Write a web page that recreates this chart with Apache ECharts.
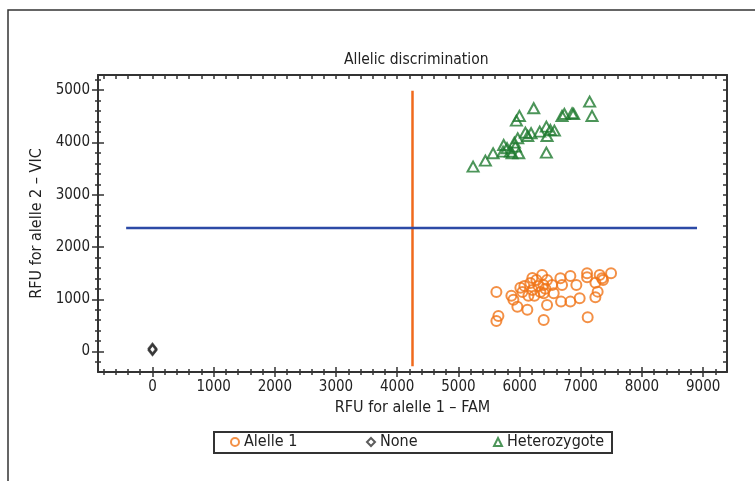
<!DOCTYPE html>
<html>
<head>
<meta charset="utf-8">
<script src="https://cdn.jsdelivr.net/npm/echarts@6/dist/echarts.min.js"></script>
<style>
  html, body { margin: 0; padding: 0; background: #fff; }
  #chart { width: 755px; height: 481px; }
</style>
</head>
<body>
<div id="chart"></div>
<script>
const FONT = '"Liberation Sans Narrow", "DejaVu Sans Condensed", sans-serif';

// axis ranges + tick labels
const xRange = [-890, 9390];
const yRange = [-390, 5290];
const xTicks = [0, 1000, 2000, 3000, 4000, 5000, 6000, 7000, 8000, 9000];
const yTicks = [0, 1000, 2000, 3000, 4000, 5000];
const minorStep = 200;

// RFU pairs [FAM, VIC]
const allele1 = [
  [5621, 1142], [5654, 683], [5621, 587], [5866, 1066], [5899, 990],
  [5964, 856], [6046, 1142], [6078, 1257], [6127, 799], [6176, 1314],
  [6209, 1180], [6242, 1066], [6275, 1371], [6307, 1257], [6340, 1142],
  [6209, 1409], [6144, 1066], [6013, 1219], [6389, 1275], [6422, 1200],
  [6368, 1467], [6449, 1371], [6531, 1275], [6394, 1117], [6449, 893],
  [6394, 606], [6558, 1117], [6667, 1403], [6694, 1275], [6678, 956],
  [6830, 956], [6830, 1447], [6928, 1275], [6982, 1021], [7103, 1499],
  [7103, 1422], [7113, 657], [7239, 1319], [7276, 1147], [7239, 1040],
  [7309, 1467], [7348, 1403], [7364, 1371], [7495, 1499]
];
const noneCall = [[0, 60], [0, 25], [4, 40]];
const hetero = [
  [5240, 3537], [5441, 3652], [5567, 3793], [5740, 3952], [5730, 3824],
  [5795, 3889], [5850, 3824], [5877, 3793], [5915, 3996], [5931, 3920],
  [5986, 3793], [5969, 4080], [5948, 4417], [5997, 4507], [6095, 4188],
  [6133, 4124], [6188, 4176], [6231, 4654], [6329, 4207], [6438, 4302],
  [6449, 4124], [6438, 3805], [6503, 4239], [6569, 4226], [6694, 4507],
  [6732, 4545], [6858, 4558], [6884, 4545], [7145, 4780], [7184, 4507]
];

// call thresholds
const famCut = [[4250, -280], [4250, 4990]];
const vicCut = [[-430, 2365], [8900, 2365]];

function minorTicks(range) {
  const out = [];
  for (let v = Math.ceil(range[0] / minorStep) * minorStep; v <= range[1]; v += minorStep) out.push(v);
  return out;
}

// one axis per tick style, all stacked on the same edge
function axis(range, pos, ticks, len, inside, withLine, withLabels, extra) {
  return Object.assign({
    type: 'value', position: pos, min: range[0], max: range[1],
    splitLine: { show: false },
    axisLine: { show: withLine, onZero: false, lineStyle: { color: '#333', width: 2 } },
    axisTick: { show: true, inside: inside, length: len, customValues: ticks,
                lineStyle: { color: '#333', width: 1.5 } },
    axisLabel: withLabels
      ? { show: true, customValues: withLabels, formatter: v => String(v),
          color: '#222', fontFamily: FONT, fontSize: 15, margin: 8 }
      : { show: false }
  }, extra || {});
}

const xMinor = minorTicks(xRange);
const yMinor = minorTicks(yRange);

const nameStyle = { fontFamily: FONT, fontSize: 16, color: '#222' };
const xAxes = [
  axis(xRange, 'bottom', xTicks, 5, false, true, xTicks, {
    name: 'RFU for alelle 1 \u2013 FAM', nameLocation: 'middle', nameGap: 28, nameTextStyle: nameStyle
  }),
  axis(xRange, 'bottom', xTicks, 5, true, false, null),
  axis(xRange, 'bottom', xMinor, 3, false, false, null),
  axis(xRange, 'bottom', xMinor, 3, true, false, null),
  axis(xRange, 'top', xMinor, 4, true, true, null)
];
const yAxes = [
  axis(yRange, 'left', yTicks, 6, false, true, yTicks, {
    name: 'RFU for alelle 2 \u2013 VIC', nameLocation: 'middle', nameGap: 52, nameRotate: 90,
    nameTextStyle: nameStyle
  }),
  axis(yRange, 'left', yTicks, 6, true, false, null),
  axis(yRange, 'left', yMinor, 3, false, false, null),
  axis(yRange, 'left', yMinor, 3, true, false, null),
  axis(yRange, 'right', yMinor, 4, true, true, null)
];

const legendText = { fontFamily: FONT, fontSize: 16, color: '#222' };
function legendAt(name, left) {
  return { data: [name], left: left, top: 434, padding: 0, itemWidth: 8, itemHeight: 8,
           itemGap: 0, textStyle: legendText, selectedMode: false };
}

const chart = echarts.init(document.getElementById('chart'), null, { renderer: 'canvas' });
chart.setOption({
  animation: false,
  title: {
    text: 'Allelic discrimination', left: 339, top: 47,
    textStyle: { fontFamily: FONT, fontSize: 15.5, fontWeight: 'normal', color: '#222' }
  },
  grid: { left: 98, right: 28, top: 75, bottom: 109 },
  xAxis: xAxes,
  yAxis: yAxes,
  legend: [legendAt('Alelle 1', 230), legendAt('None', 366), legendAt('Heterozygote', 493)],
  graphic: [
    // outer frame (left + top edge)
    { type: 'polyline', shape: { points: [[8, 481], [8, 10], [755, 10]] },
      style: { stroke: '#333', lineWidth: 1.5, fill: null } },
    // legend box
    { type: 'rect', shape: { x: 214, y: 432, width: 398, height: 21 },
      style: { stroke: '#333', lineWidth: 2, fill: null }, z: 0 }
  ],
  series: [
    { name: 'FAM cut', type: 'line', data: famCut, symbol: 'none', silent: true,
      lineStyle: { color: '#f06a1c', width: 2.5 } },
    { name: 'VIC cut', type: 'line', data: vicCut, symbol: 'none', silent: true,
      lineStyle: { color: '#2c4aa6', width: 2.5 } },
    { name: 'Alelle 1', type: 'scatter', data: allele1, symbol: 'circle', symbolSize: 10,
      itemStyle: { color: 'transparent', borderColor: '#f07418', borderWidth: 2 } },
    { name: 'None', type: 'scatter', data: noneCall, symbol: 'diamond', symbolSize: [8, 10],
      itemStyle: { color: 'transparent', borderColor: '#333', borderWidth: 1.8 } },
    { name: 'Heterozygote', type: 'scatter', data: hetero, symbol: 'triangle', symbolSize: [11, 10],
      itemStyle: { color: 'transparent', borderColor: '#1f7a30', borderWidth: 2 } }
  ]
});
</script>
</body>
</html>
